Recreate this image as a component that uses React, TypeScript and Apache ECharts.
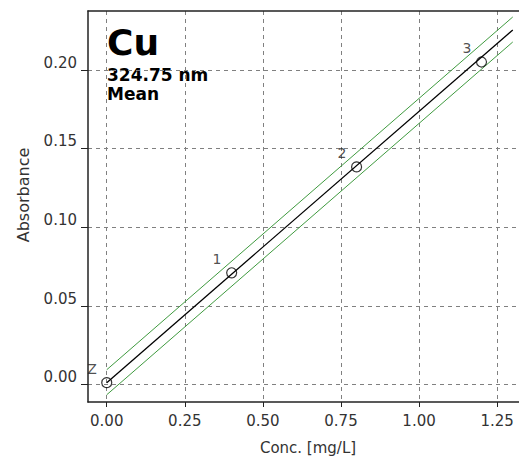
import React, { useEffect, useRef } from "react";
import * as echarts from "echarts";

const X_TICKS = [0, 0.25, 0.5, 0.75, 1.0, 1.25];
const Y_TICKS = [0, 0.05, 0.1, 0.15, 0.2];

const STANDARD_NAMES = ["Z", "1", "2", "3"];
const STANDARD_CONC = [0, 0.4, 0.8, 1.2];
const STANDARD_ABS = [0.0013, 0.0711, 0.1384, 0.2051];

const FIT_X = [0, 1.3];
const FIT_Y = [0.0013, 0.2254];
const UPPER_Y = [0.0095, 0.2337];
const LOWER_Y = [-0.0064, 0.2178];

const FONT = "DejaVu Sans";

export default function App() {
  const ref = useRef<HTMLDivElement>(null);
  useEffect(() => {
    if (!ref.current) return;
    const chart = echarts.init(ref.current, null, { renderer: "svg" });
    const toPairs = (xs: number[], ys: number[]) => xs.map((x, i) => [x, ys[i]]);
    const axisColor = "#222";
    const gridLine = { show: true, lineStyle: { color: "#808080", type: [4, 4] as any, width: 1 } };
    chart.setOption({
      animation: false,
      backgroundColor: "#fff",
      grid: { left: 88, top: 11, right: 0, bottom: 57, show: false },
      xAxis: [
        {
          type: "value",
          min: -0.06,
          max: 1.32,
          position: "bottom",
          axisLine: { show: true, onZero: false, lineStyle: { color: axisColor, width: 1.5 } },
          axisTick: { show: true, customValues: X_TICKS, length: 5, lineStyle: { color: axisColor } },
          axisLabel: {
            customValues: X_TICKS,
            formatter: (v: number) => v.toFixed(2),
            margin: 11,
            color: "#333",
            fontFamily: FONT,
            fontSize: 15,
          },
          splitLine: gridLine,
        },
        {
          type: "value",
          min: -0.06,
          max: 1.32,
          position: "top",
          axisLine: { show: true, onZero: false, lineStyle: { color: axisColor, width: 1.5 } },
          axisTick: { show: false },
          axisLabel: { show: false },
          splitLine: { show: false },
        },
      ],
      yAxis: {
        type: "value",
        min: -0.011,
        max: 0.2375,
        axisLine: { show: true, onZero: false, lineStyle: { color: axisColor, width: 1.5 } },
        axisTick: { show: true, customValues: Y_TICKS, length: 7, lineStyle: { color: axisColor } },
        axisLabel: {
          customValues: Y_TICKS,
          formatter: (v: number) => v.toFixed(2),
          margin: 11,
          verticalAlign: "bottom",
          color: "#333",
          fontFamily: FONT,
          fontSize: 15,
        },
        splitLine: gridLine,
      },
      graphic: [
        { type: "text", x: 107, y: 42, style: { text: "Cu", font: `bold 36px '${FONT}'`, fill: "#000", verticalAlign: "middle" } },
        { type: "text", x: 107, y: 75, style: { text: "324.75 nm", font: `bold 17px '${FONT}'`, fill: "#000", verticalAlign: "middle" } },
        { type: "text", x: 107, y: 93.5, style: { text: "Mean", font: `bold 17px '${FONT}'`, fill: "#000", verticalAlign: "middle" } },
        { type: "text", x: 308, y: 448, style: { text: "Conc. [mg/L]", font: `15px '${FONT}'`, fill: "#333", align: "center", verticalAlign: "middle" } },
        { type: "text", x: 23, y: 195, rotation: Math.PI / 2, style: { text: "Absorbance", font: `16px '${FONT}'`, fill: "#333", align: "center", verticalAlign: "middle" } },
      ],
      series: [
        {
          type: "line",
          data: toPairs(FIT_X, UPPER_Y),
          showSymbol: false,
          lineStyle: { color: "#3f9a3f", width: 1 },
          z: 2,
        },
        {
          type: "line",
          data: toPairs(FIT_X, LOWER_Y),
          showSymbol: false,
          lineStyle: { color: "#3f9a3f", width: 1 },
          z: 2,
        },
        {
          type: "line",
          data: toPairs(FIT_X, FIT_Y),
          showSymbol: false,
          lineStyle: { color: "#000", width: 1.3 },
          z: 3,
        },
        {
          type: "scatter",
          data: STANDARD_NAMES.map((n, i) => ({ name: n, value: [STANDARD_CONC[i], STANDARD_ABS[i]] })),
          symbol: "circle",
          symbolSize: 10,
          itemStyle: { color: "rgba(255,255,255,0)", borderColor: "#000", borderWidth: 1.2 },
          label: {
            show: true,
            formatter: (p: any) => p.name,
            position: [-9, -8],
            align: "center",
            verticalAlign: "middle",
            color: "#222",
            fontFamily: FONT,
            fontSize: 14,
          },
          z: 4,
        },
      ],
    });
    return () => chart.dispose();
  }, []);
  return (
    <div
      ref={ref}
      style={{ position: "absolute", left: 0, top: 0, width: 519, height: 459 }}
    />
  );
}
